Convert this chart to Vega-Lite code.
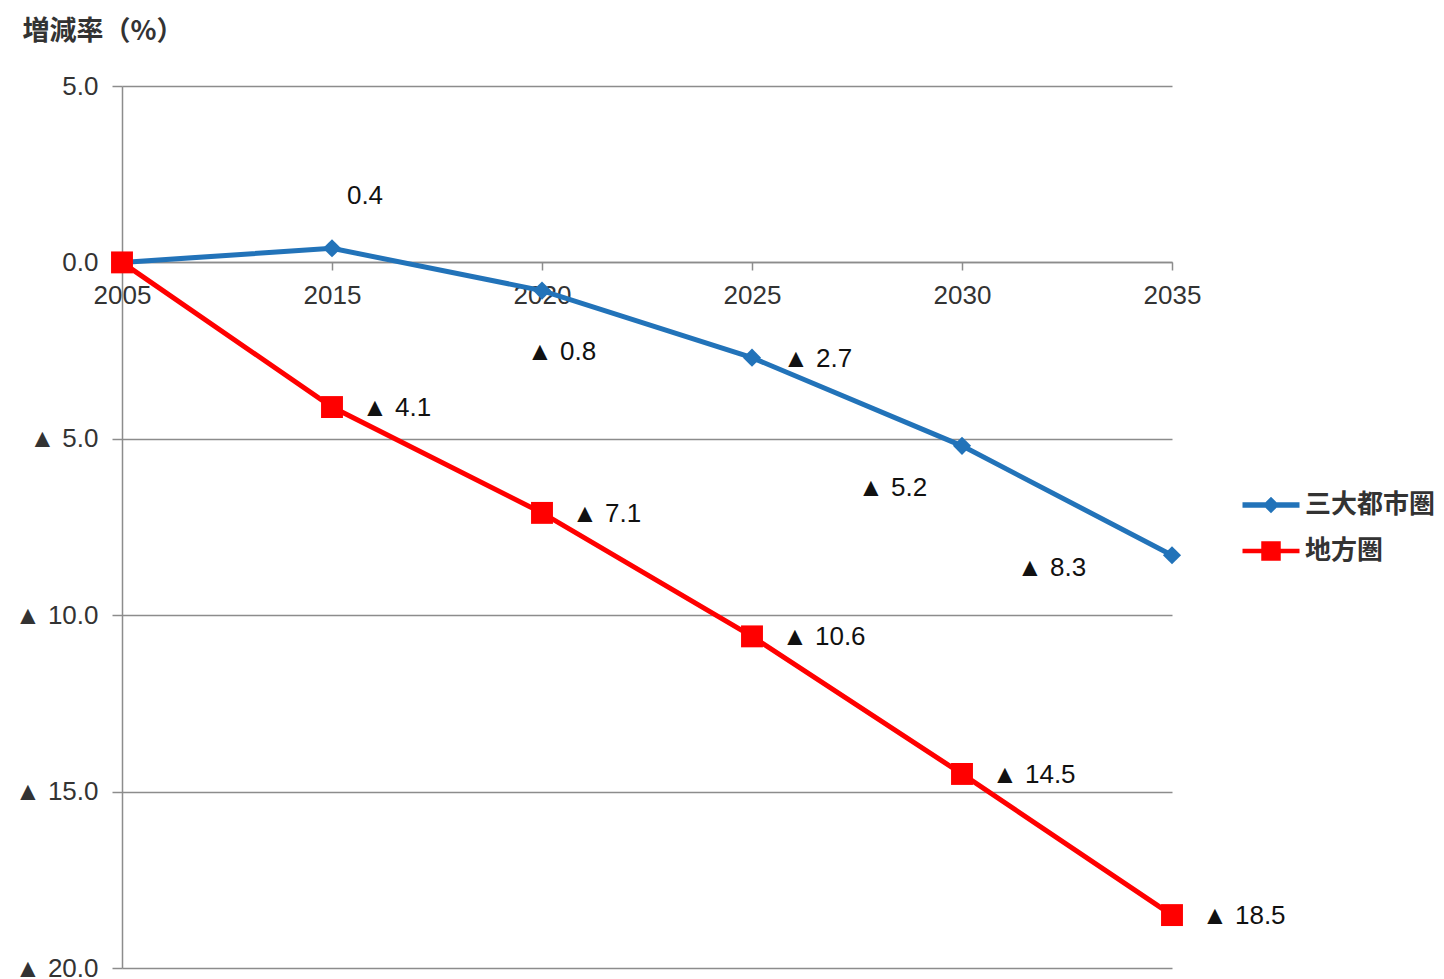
{
  "$schema": "https://vega.github.io/schema/vega-lite/v6.json",
  "autosize": "none",
  "width": 1050,
  "height": 882,
  "padding": {"left": 122, "top": 86, "right": 272, "bottom": 11},
  "background": "white",
  "config": {
    "view": {"stroke": null},
    "font": "Liberation Sans",
    "axis": {"labelFont": "Liberation Sans", "labelFontSize": 26, "labelColor": "#333333", "domainColor": "#8c8c8c", "domainWidth": 1.5, "tickColor": "#8c8c8c", "tickWidth": 1.5, "gridColor": "#8c8c8c", "gridWidth": 1.5}
  },
  "data": {"values": [
    {"year": "2005", "series": "三大都市圏", "value": 0.0, "label": "0.0"},
    {"year": "2015", "series": "三大都市圏", "value": 0.4, "label": "0.4"},
    {"year": "2020", "series": "三大都市圏", "value": -0.8, "label": "▲ 0.8"},
    {"year": "2025", "series": "三大都市圏", "value": -2.7, "label": "▲ 2.7"},
    {"year": "2030", "series": "三大都市圏", "value": -5.2, "label": "▲ 5.2"},
    {"year": "2035", "series": "三大都市圏", "value": -8.3, "label": "▲ 8.3"},
    {"year": "2005", "series": "地方圏", "value": 0.0, "label": "0.0"},
    {"year": "2015", "series": "地方圏", "value": -4.1, "label": "▲ 4.1"},
    {"year": "2020", "series": "地方圏", "value": -7.1, "label": "▲ 7.1"},
    {"year": "2025", "series": "地方圏", "value": -10.6, "label": "▲ 10.6"},
    {"year": "2030", "series": "地方圏", "value": -14.5, "label": "▲ 14.5"},
    {"year": "2035", "series": "地方圏", "value": -18.5, "label": "▲ 18.5"}
  ]},
  "encoding": {
    "x": {"field": "year", "type": "ordinal", "sort": null,
      "scale": {"type": "point", "padding": 0},
      "axis": {"title": null, "labelAngle": 0, "offset": -706, "tickSize": 8, "labelPadding": 12, "grid": false}},
    "y": {"field": "value", "type": "quantitative",
      "scale": {"domain": [-20, 5], "nice": false, "zero": false},
      "axis": {"values": [5, 0, -5, -10, -15, -20], "grid": true, "tickSize": 10, "labelPadding": 14,
        "labelExpr": "datum.value < 0 ? '▲ ' + format(-datum.value, '.1f') : format(datum.value, '.1f')",
        "title": "増減率（%）", "titleAngle": 0, "titleX": -100, "titleY": -55, "titleAlign": "left", "titleBaseline": "middle",
        "titleFont": "Noto Sans CJK JP", "titleFontSize": 27, "titleFontWeight": "bold", "titleColor": "#333333"}}
  },
  "layer": [
    {
      "mark": {"type": "line", "strokeWidth": 5},
      "encoding": {
        "color": {"field": "series", "type": "nominal",
          "scale": {"domain": ["三大都市圏", "地方圏"], "range": ["#2273B9", "#FF0000"]},
          "legend": {"title": null, "orient": "none", "legendX": 1134, "legendY": 404,
            "symbolSize": 900, "labelOffset": 19, "rowPadding": 18,
            "labelFont": "Noto Sans CJK JP", "labelFontSize": 26, "labelFontWeight": "bold", "labelColor": "#333333",
            "encode": {"symbols": {"update": {
              "shape": {"signal": "datum.value === '三大都市圏' ? 'M-1.9,-0.18L1.9,-0.18L1.9,0.18L-1.9,0.18Z M0,-0.55L0.55,0L0,0.55L-0.55,0Z' : 'M-1.9,-0.15L1.9,-0.15L1.9,0.15L-1.9,0.15Z M-0.65,-0.65L0.65,-0.65L0.65,0.65L-0.65,0.65Z'"},
              "fill": {"scale": "color", "field": "value"},
              "fillOpacity": {"value": 1},
              "strokeWidth": {"value": 0}
            }}}
          }}
      }
    },
    {
      "transform": [{"filter": "datum.series === '三大都市圏'"}],
      "mark": {"type": "point", "shape": "diamond", "filled": true, "opacity": 1, "size": 330, "color": "#2273B9"}
    },
    {
      "transform": [{"filter": "datum.series === '地方圏'"}],
      "mark": {"type": "point", "shape": "square", "filled": true, "opacity": 1, "size": 480, "color": "#FF0000"}
    },
    {
      "transform": [{"filter": "datum.series === '地方圏' && datum.year !== '2005'"}],
      "mark": {"type": "text", "align": "left", "baseline": "middle", "dx": 30, "dy": 1, "fontSize": 26, "color": "#111111"},
      "encoding": {"text": {"field": "label"}}
    },
    {
      "transform": [{"filter": "datum.series === '三大都市圏' && datum.year === '2015'"}],
      "mark": {"type": "text", "align": "center", "baseline": "middle", "dx": 33, "dy": -52, "fontSize": 26, "color": "#111111"},
      "encoding": {"text": {"field": "label"}}
    },
    {
      "transform": [{"filter": "datum.series === '三大都市圏' && datum.year === '2020'"}],
      "mark": {"type": "text", "align": "left", "baseline": "middle", "dx": -15, "dy": 61, "fontSize": 26, "color": "#111111"},
      "encoding": {"text": {"field": "label"}}
    },
    {
      "transform": [{"filter": "datum.series === '三大都市圏' && datum.year === '2025'"}],
      "mark": {"type": "text", "align": "left", "baseline": "middle", "dx": 31, "dy": 1, "fontSize": 26, "color": "#111111"},
      "encoding": {"text": {"field": "label"}}
    },
    {
      "transform": [{"filter": "datum.series === '三大都市圏' && datum.year === '2030'"}],
      "mark": {"type": "text", "align": "left", "baseline": "middle", "dx": -104, "dy": 42, "fontSize": 26, "color": "#111111"},
      "encoding": {"text": {"field": "label"}}
    },
    {
      "transform": [{"filter": "datum.series === '三大都市圏' && datum.year === '2035'"}],
      "mark": {"type": "text", "align": "left", "baseline": "middle", "dx": -155, "dy": 13, "fontSize": 26, "color": "#111111"},
      "encoding": {"text": {"field": "label"}}
    }
  ]
}
